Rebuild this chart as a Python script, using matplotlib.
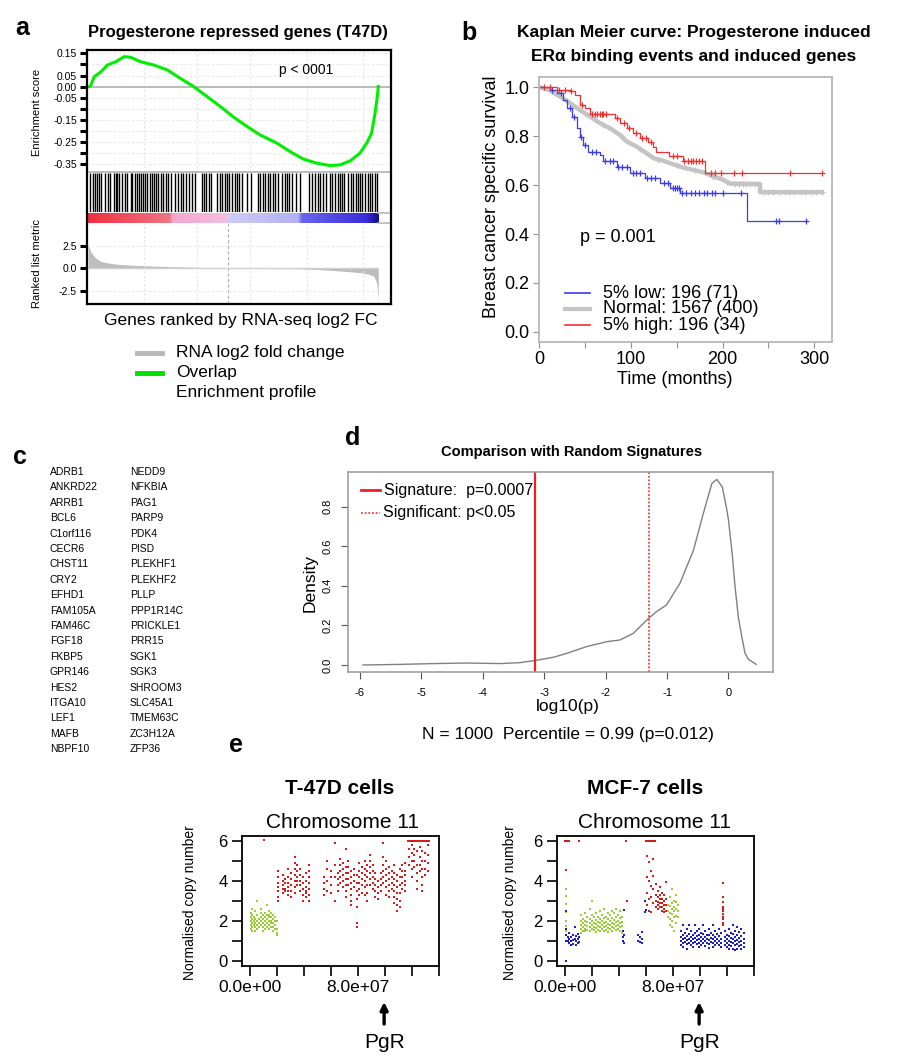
import numpy as np
import matplotlib
matplotlib.use('Agg')
import matplotlib.pyplot as plt
from matplotlib.colors import LinearSegmentedColormap
from matplotlib.lines import Line2D
from matplotlib.transforms import blended_transform_factory

plt.rcParams['font.family'] = ['Liberation Sans', 'DejaVu Sans']

# ---------------- data ----------------
# panel a: GSEA
es_rank = [0, 0.7, 2.1, 4.4, 6.6, 9.5, 12.4, 14.7, 18.1, 22.7, 27.3, 31.8, 36.4, 41.0, 45.6, 50.2,
           54.8, 59.3, 65.1, 69.6, 74.2, 78.8, 83.4, 86.8, 90.3, 93.7, 96.0, 97.7, 98.9, 99.7, 100]
es_value = [0.0, 0.0, 0.045, 0.067, 0.097, 0.112, 0.135, 0.132, 0.112, 0.097, 0.075, 0.037, 0.0,
            -0.045, -0.090, -0.138, -0.180, -0.218, -0.255, -0.293, -0.327, -0.345, -0.356, -0.353,
            -0.335, -0.300, -0.255, -0.210, -0.120, -0.045, 0.0]
hit_ranks = [0.6, 1.5, 2.4, 3.2, 3.8, 4.4, 5.9, 6.7, 7.5, 8.9, 9.5, 10.1, 10.7, 11.8, 12.7, 13.5, 14.7,
             15.2, 16.2, 17.0, 17.5, 18.1, 18.9, 19.6, 20.4, 21.2, 21.9, 22.7, 23.3, 24.2, 25.0, 25.8,
             26.7, 27.6, 28.4, 30.1, 31.1, 31.9, 32.7, 33.6, 34.9, 35.9, 37.0, 39.1, 39.9, 40.7, 41.6,
             42.5, 44.5, 45.3, 46.2, 47.1, 47.9, 48.7, 49.6, 50.5, 51.3, 52.1, 53.0, 54.8, 56.3, 58.5,
             59.4, 60.2, 61.1, 62.0, 62.8, 63.6, 64.5, 65.4, 66.8, 67.7, 68.5, 69.3, 70.2, 71.6, 73.1,
             76.2, 77.1, 78.2, 79.2, 80.0, 80.8, 81.9, 83.4, 84.2, 85.1, 86.0, 86.8, 87.6, 88.3, 89.7,
             90.6, 91.4, 92.2, 92.9, 93.7, 94.5, 95.4, 96.3, 97.1, 97.9, 98.9, 99.6]
metric_rank = [0, 0.5, 1, 2, 3, 4.5, 7, 10, 15, 21, 30, 39, 48, 60, 73, 80, 85, 90, 94, 97, 98.5, 99.3, 99.7, 100]
metric_value = [2.6, 2.2, 1.8, 1.35, 1.05, 0.75, 0.58, 0.45, 0.34, 0.26, 0.17, 0.1, 0.0, -0.03, -0.06,
                -0.15, -0.26, -0.38, -0.5, -0.7, -0.9, -1.5, -2.3, -3.6]
zero_cross_rank = 48.1
es_ticks = [0.15, 0.10, 0.05, 0.00, -0.05, -0.10, -0.15, -0.20, -0.25, -0.30, -0.35]
es_labels = ['0.15', '', '0.05', '0.00', '-0.05', '', '-0.15', '', '-0.25', '', '-0.35']

# panel b: Kaplan Meier
low_t = [0, 11.7, 19, 26.3, 29.9, 35.4, 40.8, 44.4, 48, 53.5, 66.3, 69.9, 84.5, 99, 115.4, 131.8, 142.7, 153.6, 226.4]
low_s = [1.0, 0.989, 0.975, 0.948, 0.914, 0.88, 0.832, 0.798, 0.764, 0.737, 0.723, 0.699, 0.676, 0.648,
         0.631, 0.608, 0.587, 0.567, 0.455]
low_end = 291
# large group: many tiny steps, read as a path (repeated time = visible drop)
normal_t = [0, 10, 22.6, 33.5, 44.4, 55.3, 66.3, 77.2, 88.1, 95.4, 106.3, 117.2, 124.5, 135.4, 146.3,
            157.2, 168.1, 179, 190, 200.9, 208.2, 240.9, 240.9, 308]
normal_s = [1.0, 0.99, 0.962, 0.935, 0.907, 0.88, 0.853, 0.832, 0.805, 0.778, 0.757, 0.730, 0.710, 0.699,
            0.685, 0.671, 0.662, 0.652, 0.635, 0.621, 0.606, 0.604, 0.571, 0.571]
high_t = [0, 19, 33.5, 39, 44.4, 49.8, 55.3, 82.6, 88, 95.4, 102.7, 110, 119, 124.5, 127.4, 141, 157, 181]
high_s = [1.0, 0.989, 0.986, 0.969, 0.928, 0.914, 0.89, 0.873, 0.853, 0.832, 0.812, 0.792, 0.778, 0.757,
          0.734, 0.719, 0.699, 0.648]
high_end = 308
low_cens = [14, 24, 33, 38, 46, 50, 58, 62, 72, 77, 80, 86, 90, 96, 102, 106, 110, 118, 122, 126, 136, 140,
            146, 148, 150, 152, 156, 160, 166, 170, 174, 180, 183, 188, 192, 200, 220, 258, 262, 291]
normal_cens = [30, 50, 70, 90, 110, 130, 150, 170, 190, 205, 214, 218, 222, 226, 230, 235, 245, 250, 255,
               262, 268, 272, 278, 285, 290, 296, 302, 308]
high_cens = [5, 12, 22, 28, 35, 47, 58, 61, 63, 66, 68, 70, 73, 85, 92, 98, 105, 112, 116, 122, 146, 150,
             158, 162, 165, 168, 171, 174, 177, 187, 192, 198, 212, 221, 274, 308]
km_labels = ['5% low: 196 (71)', 'Normal: 1567 (400)', '5% high: 196 (34)']

# panel c: genes
genes_col1 = ['ADRB1', 'ANKRD22', 'ARRB1', 'BCL6', 'C1orf116', 'CECR6', 'CHST11', 'CRY2', 'EFHD1',
              'FAM105A', 'FAM46C', 'FGF18', 'FKBP5', 'GPR146', 'HES2', 'ITGA10', 'LEF1', 'MAFB', 'NBPF10']
genes_col2 = ['NEDD9', 'NFKBIA', 'PAG1', 'PARP9', 'PDK4', 'PISD', 'PLEKHF1', 'PLEKHF2', 'PLLP',
              'PPP1R14C', 'PRICKLE1', 'PRR15', 'SGK1', 'SGK3', 'SHROOM3', 'SLC45A1', 'TMEM63C',
              'ZC3H12A', 'ZFP36']

# panel d: density
dens_x = [-5.95, -5.35, -4.8, -4.26, -3.72, -3.39, -3.12, -2.85, -2.63, -2.31, -1.98, -1.77, -1.55,
          -1.30, -1.17, -1.01, -0.79, -0.57, -0.41, -0.34, -0.27, -0.19, -0.10, -0.03, 0.0, 0.06,
          0.107, 0.16, 0.216, 0.27, 0.325, 0.45]
dens_y = [0.0, 0.003, 0.007, 0.01, 0.007, 0.012, 0.024, 0.039, 0.059, 0.093, 0.118, 0.126, 0.16, 0.236,
          0.27, 0.303, 0.413, 0.58, 0.766, 0.842, 0.918, 0.938, 0.90, 0.79, 0.733, 0.564, 0.396, 0.244,
          0.143, 0.059, 0.029, 0.003]
signature_log10p = -3.155
significant_log10p = -1.301

# panel e: copy number (x in Mb, one list of y values per column)
t47_green_x = [0.5, 1.5, 2.5, 3.5, 5, 6.5, 8, 9.5, 11, 12.5, 14, 15.5, 17, 18.5, 19.5]
t47_green_y = [[2.4, 2.2, 2.0, 1.8, 1.6], [2.6, 2.3, 2.1, 1.9, 1.7, 1.5], [2.2, 2.0, 1.8],
               [2.5, 2.1, 1.9, 1.7, 1.5], [3.0, 2.3, 2.0, 1.8, 1.6], [2.1, 1.9, 1.7],
               [2.6, 2.4, 2.2, 2.0, 1.8], [2.3, 2.1, 1.9, 1.7, 1.5], [2.4, 2.2, 2.0, 1.8, 1.6],
               [2.8, 2.3, 2.1, 1.9, 1.7], [2.5, 2.3, 2.2, 2.0, 1.8, 1.6], [2.4, 2.2, 2.0, 1.9, 1.7],
               [2.3, 2.1, 1.9, 1.7, 1.5], [2.2, 2.0, 1.8, 1.6], [2.0, 1.6, 1.4, 1.3]]
t47_red_x = [10, 20.5, 24, 26, 28, 30, 33, 35, 37, 39, 41.5, 44, 55, 57, 60, 63, 65, 67, 69, 71, 73, 75,
             77, 79, 81, 83, 85, 87, 89, 91, 93, 95, 97, 99, 101, 103, 105, 107, 109, 111, 113, 115,
             117, 118, 119, 120, 121, 122, 123, 124, 125, 126, 127, 128, 129, 130, 131, 132, 133]
t47_red_y = [[6.05], [4.5, 4.2, 3.9, 3.7, 3.5, 3.2, 3.0], [4.3, 4.0, 3.8, 3.6, 3.4], [4.1, 3.9, 3.6, 3.5],
             [4.6, 4.2, 3.9, 3.7, 3.5, 3.3], [4.4, 4.1, 3.8, 3.5, 3.2], [5.2, 4.9, 4.6, 4.3, 4.0, 3.7, 3.4],
             [4.8, 4.5, 4.2, 4.0, 3.8], [4.6, 4.3, 4.0, 3.8, 3.5], [4.2, 3.9, 3.6, 3.3, 3.0],
             [4.4, 4.0, 3.7, 3.5, 3.4, 3.2], [4.8, 4.5, 4.2, 3.9, 3.6, 3.3, 3.0], [4.2, 3.9, 3.6, 3.3],
             [5.0, 4.6, 4.0, 3.5], [4.5, 4.2, 3.8, 3.4], [5.9, 4.8, 4.2, 3.0], [4.4, 4.1, 3.8, 3.5],
             [5.1, 4.8, 4.5, 4.2, 3.9], [4.9, 4.6, 4.3, 4.0, 3.7], [5.6, 4.7, 4.4, 4.1, 3.8, 3.5, 3.2],
             [5.0, 4.7, 4.4, 4.1, 3.8], [4.5, 4.2, 3.9, 3.6, 3.3, 3.0, 2.8], [4.6, 4.3, 4.0, 3.7],
             [4.3, 3.9, 3.5, 3.1, 2.7, 1.9, 1.7], [4.9, 4.5, 4.2, 3.9, 3.6, 3.3], [4.7, 4.4, 4.1, 3.8, 3.4],
             [5.0, 4.6, 4.3, 4.0, 3.7, 3.3], [4.8, 4.5, 4.2, 3.8, 3.4, 3.0], [5.3, 5.0, 4.7, 4.4, 4.1, 3.8],
             [4.8, 4.5, 4.2, 3.9, 3.6], [4.4, 4.1, 3.8, 3.5, 3.2], [4.0, 3.7, 3.4, 3.1], [4.4, 4.1, 3.8, 3.5],
             [5.9, 5.2, 4.8, 4.5, 4.2, 3.9], [5.0, 4.6, 4.3, 4.0, 3.7, 3.3], [4.7, 4.4, 4.1, 3.8, 3.5, 3.2],
             [4.5, 4.2, 3.9, 3.6], [4.8, 4.4, 4.1, 3.8, 3.5, 3.2, 2.9], [4.3, 4.0, 3.7, 3.4, 3.1, 2.8, 2.5],
             [4.6, 4.2, 3.8, 3.4, 3.0, 2.7], [4.8, 4.5, 4.2, 3.9, 3.6], [4.9, 4.5, 4.3, 4.0, 3.8, 3.5],
             [6.0], [6.0, 6.0, 5.6, 5.2, 4.8], [6.0], [6.0, 5.8, 5.4, 5.0, 4.6, 4.2], [6.0],
             [6.0, 5.6, 5.3, 5.0, 4.7], [6.0], [6.0, 5.5, 4.8, 4.4, 4.0, 3.6], [6.0],
             [6.0, 5.7, 5.2, 4.8, 4.5], [6.0], [6.0, 5.5, 5.0, 4.6, 4.2, 3.8, 3.5], [6.0],
             [6.0, 5.4, 5.0, 4.6, 4.3], [6.0], [6.0, 5.8, 5.3, 4.9, 4.5], [6.0]]
mcf_red_x = [0.0, 0.7, 0.8, 1.6, 2.4, 10, 45.3, 46, 60, 60.5, 61, 62, 63, 63.5, 64, 65, 66, 67, 67.5,
             69, 70.5, 72, 73.5, 75, 117, 117.5]
mcf_red_y = [[6.0], [4.57], [6.0], [6.0], [6.0], [6.0], [6.0], [3.0], [6.0], [5.28, 4.2, 3.4, 2.8], [6.0],
             [6.0, 4.94, 4.0, 3.1, 2.5], [6.0], [4.52, 3.77, 3.2, 2.45], [6.0], [6.0, 5.1, 4.27, 3.6, 2.9],
             [6.0], [6.0], [3.85, 3.3, 3.0, 2.7], [3.5, 3.2, 2.95, 2.8, 2.6], [3.7, 3.3, 3.1, 2.9, 2.7],
             [3.4, 3.1, 2.9, 2.7, 2.5], [3.3, 3.0, 2.8, 2.6, 2.45], [3.94, 3.1, 2.8, 2.5],
             [3.89, 3.2, 2.95, 2.6, 2.35, 2.1, 1.8], [2.7, 2.5, 2.2, 1.9]]
mcf_green_x = [0.2, 12, 13.5, 15, 16.5, 18, 19.5, 21, 22.5, 24, 25.5, 27, 28.5, 30, 31.5, 33, 34.5, 36,
               37.5, 39, 40.5, 42, 76, 77.5, 79, 80.5, 82, 83.5]
mcf_green_y = [[3.6, 3.27, 2.85, 2.43, 2.0, 1.76, 1.5], [2.3, 2.0, 1.8, 1.6, 1.4], [2.1, 1.9, 1.7, 1.5],
               [2.4, 2.0, 1.8, 1.6, 1.5], [2.2, 1.95, 1.75, 1.55], [2.6, 2.1, 1.9, 1.7, 1.5],
               [3.0, 2.3, 2.0, 1.8, 1.6], [2.2, 1.9, 1.7, 1.55], [2.4, 2.05, 1.85, 1.65, 1.45],
               [2.2, 1.95, 1.75, 1.55], [2.5, 2.1, 1.9, 1.7, 1.5], [2.3, 2.0, 1.8, 1.6],
               [2.6, 2.15, 1.9, 1.7, 1.5], [2.2, 1.95, 1.75, 1.55], [2.4, 2.1, 1.85, 1.65, 1.45],
               [2.3, 2.0, 1.8, 1.6], [2.5, 2.15, 1.9, 1.7, 1.5], [2.4, 2.05, 1.85, 1.65],
               [2.6, 2.2, 1.95, 1.75, 1.55], [2.3, 2.0, 1.8, 1.6], [2.5, 2.15, 1.9, 1.7, 1.5],
               [2.2, 1.95, 1.75, 1.4], [2.8, 2.5, 2.2], [3.2, 2.76, 2.4, 2.1, 1.8],
               [3.6, 2.9, 2.6, 2.35, 2.0, 1.7], [3.0, 2.7, 2.5, 2.2, 1.5], [3.3, 2.93, 2.6, 2.26, 1.9],
               [2.8, 2.5, 2.2]]
mcf_blue_x = [0.2, 0.8, 1.8, 3, 4.5, 6, 7, 8, 9.5, 10.5, 43, 44, 54, 55.5, 57, 59, 60, 86, 87.5, 89, 90.5,
              92, 93.5, 95, 96.5, 98, 99.5, 101, 102.5, 104, 105.5, 107, 108.5, 110, 111.5, 113, 114.5,
              116, 119, 120.5, 122, 123.5, 125, 126.5, 128, 129.5, 131, 132.5]
mcf_blue_y = [[0.0, 2.5], [1.6, 1.3, 1.0], [1.2, 1.0], [1.4, 1.1, 0.9], [1.2, 1.0, 0.8], [1.3, 1.05, 0.85],
              [1.7, 1.1], [1.25, 1.0, 0.8], [1.35, 1.1, 0.9], [1.2, 0.95], [1.5, 1.2, 1.0], [2.56, 1.3, 0.9],
              [1.3, 1.0], [1.2, 0.95], [1.45, 1.1, 0.9], [3.0, 2.43], [2.55], [1.5, 1.2, 1.0, 0.8],
              [1.8, 1.3, 1.1, 0.9, 0.7], [1.4, 1.15, 0.95], [1.6, 1.25, 1.05, 0.85, 0.6], [1.8, 1.35, 1.1, 0.9],
              [1.5, 1.2, 1.0, 0.8], [1.3, 1.1, 0.9, 0.7], [1.8, 1.4, 1.15, 0.95], [1.5, 1.25, 1.05, 0.85],
              [1.6, 1.3, 1.1, 0.9, 0.7], [1.4, 1.2, 1.0, 0.8], [1.8, 1.35, 1.1, 0.9], [1.5, 1.2, 1.0, 0.75],
              [1.3, 1.1, 0.9], [1.6, 1.3, 1.05, 0.85, 0.65], [1.4, 1.15, 0.95], [1.8, 1.3, 1.1, 0.9, 0.7],
              [1.5, 1.2, 1.0, 0.8], [1.35, 1.1, 0.9], [1.6, 1.25, 1.0, 0.8], [1.4, 1.1, 0.9, 0.7],
              [1.5, 1.2, 1.0, 0.8], [1.3, 1.1, 0.9, 0.7], [1.6, 1.25, 1.0, 0.8, 0.6], [1.4, 1.15, 0.95, 0.75],
              [1.8, 1.35, 1.1, 0.9, 0.6], [1.5, 1.2, 1.0, 0.8, 0.55], [1.7, 1.3, 1.05, 0.85, 0.6],
              [1.45, 1.15, 0.95, 0.75], [1.6, 1.25, 1.0, 0.8, 0.6], [1.4, 1.1, 0.9, 0.7]]
pgr_mb = 99.5
cn_xticks = [0, 20, 40, 60, 80, 100, 120, 140]
cn_xlabels = ['0.0e+00', '', '', '', '8.0e+07', '', '', '']

# ---------------- figure ----------------
W, H = 900, 1061
fig = plt.figure(figsize=(9, 10.61), dpi=100)


def ax_px(x0, y0, x1, y1, **kw):
    return fig.add_axes([x0 / W, 1 - y1 / H, (x1 - x0) / W, (y1 - y0) / H], **kw)


def txt(x, y, s, **kw):
    kw.setdefault('ha', 'center')
    kw.setdefault('va', 'center')
    return fig.text(x / W, 1 - y / H, s, **kw)


def fline(x0, x1, y, **kw):
    fig.add_artist(Line2D([x0 / W, x1 / W], [1 - y / H, 1 - y / H], transform=fig.transFigure, **kw))


def noframe(ax):
    for s in ax.spines.values():
        s.set_visible(False)
    ax.patch.set_alpha(0)


# ===== panel a =====
AL, AR = 87.3, 391
XL = (-0.3, 104.4)
grid_ranks = [19.2, 37.6, 55.9, 75.4, 94.8]

ax_es = ax_px(AL, 50, AR, 172)
noframe(ax_es)
ax_es.set_xlim(*XL)
ax_es.set_ylim(-0.385, 0.165)
for g in grid_ranks:
    ax_es.axvline(g, color='#e4e4e4', lw=0.8, ls=(0, (2, 2)))
for t in es_ticks:
    if t != 0:
        ax_es.axhline(t, color='#e8e8e8', lw=0.8, ls=(0, (2, 2)))
ax_es.axhline(0, color='#b5b5b5', lw=1.3)
ax_es.plot(es_rank, es_value, color='#00ee00', lw=2.2, solid_joinstyle='round')
ax_es.set_yticks(es_ticks)
ax_es.set_yticklabels(es_labels, fontsize=7.5)
ax_es.set_xticks([])
ax_es.tick_params(axis='y', direction='out', length=5, width=2.2, pad=2.5)
ax_es.text(0.72, 0.84, 'p < 0001', transform=ax_es.transAxes, fontsize=10, ha='center', va='center')

ax_hit = ax_px(AL, 173.3, AR, 212)
noframe(ax_hit)
ax_hit.set_xlim(*XL)
ax_hit.set_ylim(0, 1)
ax_hit.vlines(hit_ranks, 0, 1, color='black', lw=1.0)
ax_hit.set_xticks([]); ax_hit.set_yticks([])

ax_bar = ax_px(AL, 213.3, AR, 222.7)
noframe(ax_bar)
bar_cmap = LinearSegmentedColormap.from_list('rb', [
    (0.0, '#ee3040'), (0.28, '#f07585'), (0.29, '#f2a6cf'), (0.475, '#f6bde2'),
    (0.482, '#cfcdf6'), (0.725, '#b2b0f2'), (0.735, '#6a66ea'), (0.96, '#3a2cd8'), (1.0, '#12108e')])
ax_bar.imshow(np.linspace(0, 1, 400)[None, :], aspect='auto', cmap=bar_cmap,
              extent=[0, 100, 0, 1], interpolation='bilinear')
ax_bar.set_xlim(*XL)
ax_bar.set_ylim(0, 1)
ax_bar.set_xticks([]); ax_bar.set_yticks([])
ax_bar.plot([100, XL[1]], [0.98, 0.98], color='#b8b8b8', lw=1.2, clip_on=False)
ax_bar.plot([100, XL[1]], [0.02, 0.02], color='#b8b8b8', lw=1.2, clip_on=False)

ax_rk = ax_px(AL, 222.7, AR, 304)
noframe(ax_rk)
ax_rk.set_xlim(*XL)
ax_rk.set_ylim(-4.0, 5.1)
for g in grid_ranks:
    ax_rk.axvline(g, color='#e4e4e4', lw=0.8, ls=(0, (2, 2)))
for yv in [2.5, -2.5]:
    ax_rk.axhline(yv, color='#e8e8e8', lw=0.8, ls=(0, (2, 2)))
ax_rk.axvline(zero_cross_rank, color='#b0b0b0', lw=0.8, ls=(0, (3, 2)))
ax_rk.fill_between(metric_rank, metric_value, 0, color='#bdbdbd', lw=0)
ax_rk.axhline(0, xmax=(100 - XL[0]) / (XL[1] - XL[0]), color='#d0d0d0', lw=1.0)
ax_rk.set_yticks([2.5, 0.0, -2.5])
ax_rk.set_yticklabels(['2.5', '0.0', '-2.5'], fontsize=7.5)
ax_rk.set_xticks([])
ax_rk.tick_params(axis='y', direction='out', length=5, width=2.2, pad=2.5)

frame = ax_px(AL, 50, AR, 304)
frame.set_zorder(10)
frame.patch.set_alpha(0)
frame.set_xticks([]); frame.set_yticks([])
for s in frame.spines.values():
    s.set_linewidth(1.6)
fline(AL, AR, 172.3, color='#b0b0b0', lw=1.2)

txt(21.7, 28, 'a', fontsize=18, fontweight='bold')
txt(238, 33, 'Progesterone repressed genes (T47D)', fontsize=12, fontweight='bold')
txt(37.3, 112, 'Enrichment score', fontsize=8, rotation=90)
txt(37.3, 263, 'Ranked list metric', fontsize=8, rotation=90)
txt(241, 320, 'Genes ranked by RNA-seq log2 FC', fontsize=12.5)
fline(137, 162, 353, color='#b8b8b8', lw=3.5)
fline(137, 162, 373, color='#00dd00', lw=3.5)
txt(176, 353, 'RNA log2 fold change', fontsize=12.5, ha='left')
txt(176, 373, 'Overlap', fontsize=12.5, ha='left')
txt(176, 393, 'Enrichment profile', fontsize=12.5, ha='left')

# ===== panel b =====
axb = ax_px(539.3, 76.7, 831.7, 341.7)
axb.set_xlim(0, 319)
axb.set_ylim(-0.04, 1.043)
for s in axb.spines.values():
    s.set_color('#b8b8b8'); s.set_linewidth(1.3)


def km_step(ax, t, s, end, cens, color, lw, ms):
    tt = list(t) + [end]
    ss = list(s) + [s[-1]]
    ax.step(tt, ss, where='post', color=color, lw=lw)
    idx = np.searchsorted(np.array(t), np.array(cens), side='right') - 1
    cy = np.array(s)[idx]
    ax.plot(cens, cy, ls='none', marker='+', color=color, ms=ms, mew=0.9)


def km_path(ax, t, s, cens, color, lw, ms):
    ax.plot(t, s, color=color, lw=lw, solid_joinstyle='round')
    cy = [s[int(np.searchsorted(t, c, side='right')) - 1] if c > t[-3] else np.interp(c, t[:-2], s[:-2])
          for c in cens]
    ax.plot(cens, cy, ls='none', marker='+', color=color, ms=ms, mew=0.9)


km_path(axb, normal_t, normal_s, normal_cens, '#c4c4c4', 3.2, 5)
km_step(axb, low_t, low_s, low_end, low_cens, '#3b3bf0', 0.9, 5)
km_step(axb, high_t, high_s, high_end, high_cens, '#f03030', 0.9, 5)
axb.set_xticks([0, 50, 100, 150, 200, 250, 300])
axb.set_xticklabels(['0', '', '100', '', '200', '', '300'], fontsize=13)
axb.set_yticks([0, 0.2, 0.4, 0.6, 0.8, 1.0])
axb.set_yticklabels(['0.0', '0.2', '0.4', '0.6', '0.8', '1.0'], fontsize=13)
axb.tick_params(direction='out', length=4, color='#909090', pad=3)
txt(580, 238, 'p = 0.001', fontsize=13, ha='left')
for i, (lab, col, lw) in enumerate(zip(km_labels, ['#3b3bf0', '#c4c4c4', '#f03030'], [1.2, 3.0, 1.2])):
    y = 293 + 16 * i
    fline(565, 590, y, color=col, lw=lw)
    txt(602.7, y, lab, fontsize=13, ha='left')
txt(469, 33, 'b', fontsize=18, fontweight='bold')
txt(694, 33, 'Kaplan Meier curve: Progesterone induced', fontsize=12.5, fontweight='bold')
txt(694, 56, 'ER\u03b1 binding events and induced genes', fontsize=12.5, fontweight='bold')
txt(491.7, 197, 'Breast cancer specific survival', fontsize=13, rotation=90)
txt(675, 380, 'Time (months)', fontsize=13)

# ===== panel c =====
txt(20, 457, 'c', fontsize=18, fontweight='bold')
for i, (g1, g2) in enumerate(zip(genes_col1, genes_col2)):
    y = 472 + 15.4 * i
    txt(50, y, g1, fontsize=7.5, ha='left')
    txt(130, y, g2, fontsize=7.5, ha='left')

# ===== panel d =====
axd = ax_px(348.3, 471.7, 772.7, 672.3)
axd.set_xlim(-6.19, 0.72)
axd.set_ylim(-0.037, 0.977)
for s in axd.spines.values():
    s.set_color('#999999'); s.set_linewidth(1.1)
axd.plot(dens_x, dens_y, color='#808080', lw=1.0)
axd.axvline(signature_log10p, color='#ee2020', lw=1.6)
axd.axvline(significant_log10p, color='#ee2020', lw=1.1, ls=(0, (1.2, 1.2)))
axd.set_xticks([-6, -5, -4, -3, -2, -1, 0])
axd.set_xticklabels(['-6', '-5', '-4', '-3', '-2', '-1', '0'], fontsize=8)
axd.set_yticks([0, 0.2, 0.4, 0.6, 0.8])
axd.set_yticklabels(['0.0', '0.2', '0.4', '0.6', '0.8'], fontsize=8, rotation=90, va='center')
axd.tick_params(direction='out', length=5, color='#555555', pad=6)
fline(361, 380, 490, color='#ee2020', lw=2)
fline(361, 380, 513, color='#ee2020', lw=1.1, ls=(0, (1.2, 1.2)))
txt(384.3, 490, 'Signature:  p=0.0007', fontsize=11.5, ha='left')
txt(383.3, 513, 'Significant: p<0.05', fontsize=11.5, ha='left')
txt(353, 438, 'd', fontsize=18, fontweight='bold')
txt(571.7, 452, 'Comparison with Random Signatures', fontsize=10.5, fontweight='bold')
txt(310, 583, 'Density', fontsize=12.5, rotation=90)
txt(567.7, 707, 'log10(p)', fontsize=12.5)
txt(568, 735, 'N = 1000  Percentile = 0.99 (p=0.012)', fontsize=12.5)

# ===== panel e =====
CN_RED, CN_GREEN, CN_BLUE = '#d41c1c', '#9acd32', '#1c1ccc'


def cn_panel(box, groups, title, title_x, chrom_x, ylab_x):
    ax = ax_px(*box)
    for xs, ys, col in groups:
        px = [x for x, col_y in zip(xs, ys) for _ in col_y]
        py = [y for col_y in ys for y in col_y]
        ax.scatter(px, py, s=3.2, marker='s', color=col, linewidths=0)
    ax.set_xlim(-6.4, 140.3)
    ax.set_ylim(-0.24, 6.26)
    for s in ax.spines.values():
        s.set_linewidth(1.3)
    ax.set_xticks(cn_xticks)
    ax.set_xticklabels(cn_xlabels, fontsize=12.5)
    ax.set_yticks([0, 1, 2, 3, 4, 5, 6])
    ax.set_yticklabels(['0', '', '2', '', '4', '', '6'], fontsize=12)
    ax.tick_params(direction='out', length=7, width=1.2, pad=3)
    txt(title_x, 788, title, fontsize=15, fontweight='bold')
    txt(chrom_x, 822, 'Chromosome 11', fontsize=15)
    txt(ylab_x, 903, 'Normalised copy number', fontsize=10, rotation=90)
    tr = blended_transform_factory(ax.transData, fig.transFigure)
    ax.annotate('', xy=(pgr_mb, 1 - 1002 / H), xytext=(pgr_mb, 1 - 1024 / H),
                xycoords=tr, textcoords=tr, annotation_clip=False,
                arrowprops=dict(arrowstyle='-|>', color='black', lw=2.4, mutation_scale=11,
                                shrinkA=0, shrinkB=0))
    ax.text(pgr_mb, 1 - 1042 / H, 'PgR', transform=tr, fontsize=15, ha='center', va='center')
    return ax


cn_panel((241.7, 836, 439, 965.7),
         [(t47_green_x, t47_green_y, CN_GREEN), (t47_red_x, t47_red_y, CN_RED)],
         'T-47D cells', 340, 342, 190)
cn_panel((556.7, 836, 754, 965.7),
         [(mcf_green_x, mcf_green_y, CN_GREEN), (mcf_blue_x, mcf_blue_y, CN_BLUE),
          (mcf_red_x, mcf_red_y, CN_RED)],
         'MCF-7 cells', 645, 655, 510)
txt(236, 745, 'e', fontsize=18, fontweight='bold')

fig.savefig('out.png', dpi=100)
